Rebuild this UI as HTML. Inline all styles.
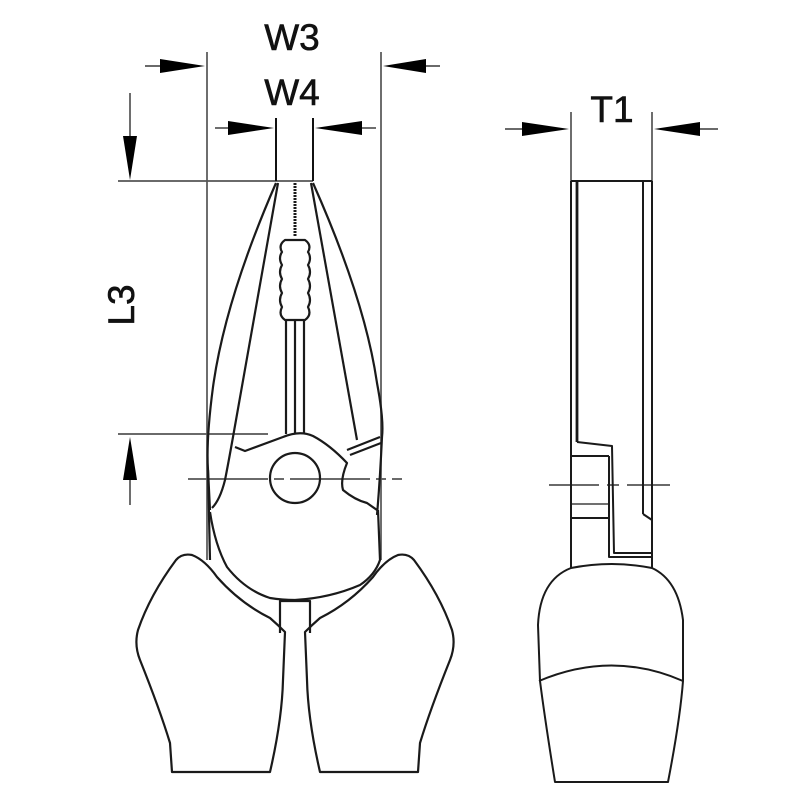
<!DOCTYPE html>
<html><head><meta charset="utf-8"><style>html,body{margin:0;padding:0;background:#fff}svg{display:block}</style></head>
<body>
<svg width="800" height="800" viewBox="0 0 800 800" xmlns="http://www.w3.org/2000/svg">
<defs>
<g id="rh">
<path d="M305,632 Q312,625 320,618 Q350,603 373,577 Q385,560 398,555 Q408,553 414,560 Q440,595 452,630 Q456,645 450,660 Q430,710 420,743 L418,772 L320,772 Q308,720 307,680 Z"/>
</g>
</defs>
<g fill="none" stroke="#555" stroke-width="1.7">
<line x1="207" y1="52" x2="207" y2="560"/>
<line x1="381" y1="52" x2="381" y2="560"/>
<line x1="118" y1="181" x2="313" y2="181"/>
<line x1="118" y1="434" x2="268" y2="434"/>
<line x1="571" y1="112" x2="571" y2="181"/>
<line x1="652" y1="112" x2="652" y2="181"/>
<line x1="145" y1="66" x2="170" y2="66"/>
<line x1="415" y1="66" x2="440" y2="66"/>
<line x1="215" y1="128" x2="230" y2="128"/>
<line x1="362" y1="128" x2="376" y2="128"/>
<line x1="130" y1="93" x2="130" y2="140"/>
<line x1="130" y1="470" x2="130" y2="505"/>
<line x1="505" y1="129" x2="530" y2="129"/>
<line x1="694" y1="129" x2="718" y2="129"/>
<line x1="188" y1="479" x2="402" y2="479" stroke-dasharray="80,6,10,6"/>
<line x1="549" y1="485" x2="670" y2="485" stroke-dasharray="50,8,12,8"/>
</g>
<g fill="#000" stroke="none">
<polygon points="160,59 205,66 160,73"/>
<polygon points="426,59 383,66 426,73"/>
<polygon points="228,121 274,128 228,135"/>
<polygon points="362,121 315,128 362,135"/>
<polygon points="123,136 130,180 137,136"/>
<polygon points="123,480 130,437 137,480"/>
<polygon points="522,122 569,129 522,136"/>
<polygon points="700,122 654,129 700,136"/>
</g>
<g fill="none" stroke="#111" stroke-width="2">
<line x1="276" y1="118" x2="276" y2="181"/>
<line x1="313" y1="118" x2="313" y2="181"/>
</g>
<g font-family="Liberation Sans, sans-serif" font-size="37" fill="#111" text-anchor="middle" stroke="#111" stroke-width="0.6">
<text x="292" y="50">W3</text>
<text x="292" y="105">W4</text>
<text x="612" y="122">T1</text>
<text transform="translate(134,305) rotate(-90)">L3</text>
</g>
<g fill="none" stroke="#1a1a1a" stroke-width="2.2" stroke-linejoin="round">
<path d="M276,183 Q225,300 213,387 Q206,440 208,470 L210,510"/>
<path d="M278,183 L233,437 Q228,465 225,480 Q220,500 212,508"/>
<path d="M313,183 Q365,300 377,383 Q384,420 382,437 Q380,480 377,515"/>
<path d="M311,183 L357,440"/>
<path d="M295,183 L295,237" stroke-width="3" stroke-dasharray="2,1"/>
<path d="M285,240 L305,240 Q312,245 308,252 Q312,258 308,265 Q312,272 308,279 Q312,286 308,293 Q312,300 308,307 Q312,315 305,320 L285,320 Q278,315 282,307 Q278,300 282,293 Q278,286 282,279 Q278,272 282,265 Q278,258 282,252 Q278,245 285,240 Z"/>
<line x1="286" y1="320" x2="286" y2="434"/>
<line x1="295" y1="320" x2="295" y2="434"/>
<line x1="304" y1="320" x2="304" y2="434"/>
<path d="M235,447 L245,451 L283,437 Q300,430 313,436 Q330,445 347,463 Q340,480 343,490 Q355,500 367,503 L377,510"/>
<path d="M347,450 L380,437"/>
<path d="M350,455 L381,443"/>
<circle cx="295" cy="478" r="25"/>
<path d="M210,512 Q215,545 227,567 Q245,590 270,598 Q282,600 295,600 Q330,598 360,585 Q375,575 380,560 L378,510"/>
<path d="M208,470 L210,560"/>
<path d="M280,633 L280,601 L310,601 L310,633"/>
<use href="#rh"/>
<use href="#rh" transform="translate(590,0) scale(-1,1)"/>
</g>
<g fill="none" stroke="#1a1a1a" stroke-width="2" stroke-linejoin="round">
<line x1="571" y1="181" x2="652" y2="181"/>
<line x1="571" y1="181" x2="571" y2="568"/>
<line x1="652" y1="181" x2="652" y2="568"/>
<line x1="577" y1="181" x2="577" y2="442" stroke-width="2.8"/>
<line x1="643" y1="181" x2="643" y2="514"/>
<path d="M643,514 L652,520"/>
<path d="M577,442 L612,446 L614,553 L652,553"/>
<path d="M609,456 L609,557 L652,557"/>
<path d="M571,456 L609,456"/>
<path d="M571,518 L609,518"/>
<path d="M571,504 L609,504" stroke-width="1.2"/>
<path d="M571,568 Q612,560 652,568 Q678,580 683,620 L683,681 Q680,720 668,782 L555,782 Q545,720 540,681 L538,625 Q540,580 571,568 Z"/>
<path d="M539,681 Q612,650 683,681"/>
</g>
</svg>
</body></html>
